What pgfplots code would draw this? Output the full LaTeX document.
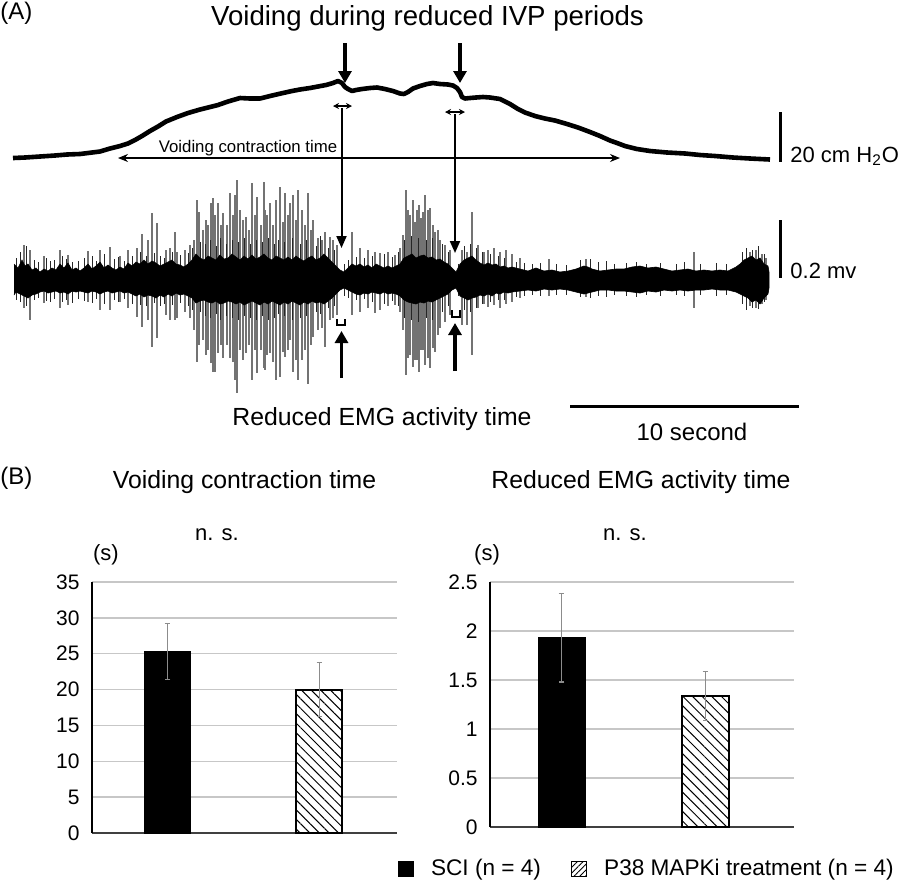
\documentclass[border=0pt]{standalone}
\usepackage{pgfplots}
\pgfplotsset{compat=1.18}
\usepackage{pgfplotstable}
\usepackage{fontspec}
\setmainfont{Liberation Sans}
\usetikzlibrary{arrows.meta,patterns.meta}
\newcommand\fs[1]{\fontsize{#1}{#1}\selectfont}

% IVP trace (pixel coordinates)
\pgfplotstableread{
x y
13 158
25 157.5
40 156.5
55 155.5
67 154.5
80 154
92 152.5
100 151.5
110 148.5
120 146
128 143.5
135 140
142 136
150 131
158 126.5
166 121.5
177 117
188 113
200 109.5
210 107
218 105
228 101.5
240 98
250 98.5
260 98.5
270 96
283 93
292 91
300 89.5
310 88
318 86.5
326 85
333 83
338 81
342 83
345 87
348 89
352 91
356 90
362 89
370 88
377 87.5
385 89
393 91
400 93.5
404 94
408 92
413 88.5
420 86
427 84
433 83
440 84
448 84.5
453 85.5
457 88
460 92
462 97
465 98.5
470 98
476 97.5
483 97
490 97.5
500 99
510 104
518 109
525 112.5
535 116
545 118.5
555 120.5
567 124
578 127.5
590 132
600 136
610 140.5
617 143
625 146
637 149
650 151
667 152.5
685 153.5
700 155
715 156
733 157.5
750 158.5
770 159.5
}\ivp

% EMG tall spikes: x, top, bottom
\pgfplotstableread{
x top bot
24 245 308
30 250 320
44 256 303
60 250 308
68 255 305
88 251 302
100 250 310
110 247 310
120 256 302
128 250 308
137 248 317
142 234 327
148 240 320
152 213 347
157 223 338
166 250 315
170 248 320
175 232 320
177 252 318
185 250 312
190 245 318
194 240 330
197 200 362
199 212 345
203 230 340
206 220 355
208 225 350
211 203 363
213 198 372
215 215 372
218 203 353
221 225 345
223 213 358
227 225 345
230 193 358
233 215 362
235 195 380
237 180 393
240 210 350
243 220 360
246 217 353
249 230 345
252 183 380
255 215 350
257 197 373
261 225 350
264 182 368
265 210 370
267 215 355
270 203 353
273 225 362
276 200 380
280 187 377
283 222 352
285 193 357
288 215 350
290 203 340
293 195 372
296 220 360
298 190 380
302 210 360
305 225 350
308 193 384
311 230 345
313 220 337
318 238 330
322 240 328
325 232 347
330 237 320
333 240 318
337 245 315
352 232 315
360 248 312
368 250 308
375 252 313
380 253 310
388 252 306
395 255 305
400 248 312
403 235 330
406 190 375
408 210 358
410 215 355
413 200 367
415 222 360
417 210 360
419 205 372
421 218 350
423 212 350
425 195 365
428 210 358
430 208 368
433 225 348
435 232 352
438 230 335
440 240 328
445 245 322
450 250 315
462 250 325
467 252 325
472 212 355
478 245 308
484 252 304
488 250 307
494 248 305
500 252 308
506 250 304
512 254 302
520 258 298
549 259 296
586 259 297
694 252 308
750 252 306
756 250 308
762 254 304
766 258 300
}\spikes

% EMG short dark spikes: x, top, bottom
\pgfplotstableread{
x top bot
16 258 300
20 252 302
26 246 306
34 260 300
38 262 298
46 258 301
50 261 302
54 260 299
62 256 302
66 259 300
72 262 303
78 261 299
84 258 301
92 256 303
96 261 299
104 254 304
114 259 300
118 257 302
124 261 299
132 256 304
140 252 305
146 256 306
154 253 303
160 256 306
164 258 304
172 252 305
180 255 303
188 253 306
192 248 310
200 242 312
205 244 316
210 240 318
216 246 314
220 238 320
226 244 316
232 240 318
238 242 320
244 238 316
250 244 318
256 240 320
262 242 316
268 238 320
274 244 318
278 240 314
284 242 316
292 238 320
300 244 318
306 240 316
316 246 312
320 236 314
328 248 308
334 250 306
344 264 296
348 260 298
356 257 300
364 258 299
372 256 302
384 254 304
392 257 301
398 252 306
404 240 318
411 236 320
418 238 322
426 240 318
432 238 320
442 244 312
448 252 306
458 264 296
464 246 310
470 244 312
476 248 308
482 252 304
490 254 302
498 256 300
504 258 300
516 262 297
524 263 296
532 264 295
540 263 296
556 264 295
566 265 295
580 260 297
590 259 298
598 262 296
606 261 297
614 264 295
626 263 296
636 262 297
646 264 295
660 263 296
676 264 295
684 262 296
700 264 295
716 263 296
726 264 295
742 252 304
746 248 310
752 250 308
758 246 309
764 254 302
}\dark

% EMG dense band: upper envelope then lower envelope
\pgfplotstableread{
x y
14 264
18 268
22 260
25 266
28 264
32 270
36 268
40 272
44 269
48 271
52 268
56 270
60 264
64 268
68 263
72 270
76 268
80 271
84 268
88 264
92 269
96 266
100 262
104 268
108 265
112 268
116 270
120 267
124 269
128 263
132 266
136 262
140 264
144 260
148 264
152 261
156 263
160 266
164 264
168 262
172 260
176 264
180 265
184 267
188 264
192 260
196 254
200 258
204 260
208 256
212 258
216 260
220 255
224 259
228 258
232 254
236 257
240 260
244 256
248 259
252 255
256 259
260 257
264 254
268 258
272 260
276 256
280 258
284 260
288 257
292 260
296 256
300 259
304 261
308 258
312 256
316 260
320 258
324 254
328 258
332 262
336 266
340 270
344 272
348 268
352 264
356 266
360 264
364 267
368 265
372 268
376 264
380 266
384 268
388 266
392 268
396 266
400 264
404 258
408 256
412 254
416 258
420 256
424 255
428 258
432 257
436 260
440 259
444 262
448 264
452 268
456 272
460 264
464 260
468 258
472 256
476 260
480 263
484 265
488 263
492 265
496 264
500 267
504 266
508 268
512 267
520 269
528 271
536 268
544 271
552 270
560 272
568 271
576 269
584 266
588 267
592 269
600 271
608 270
616 269
624 269
632 267
640 266
648 268
656 267
664 269
672 271
680 270
688 269
696 271
704 270
712 271
720 270
728 271
736 267
740 264
744 260
748 258
752 256
756 260
760 258
764 264
768 266
769 272
769 288
768 294
764 298
760 304
756 300
752 302
748 298
744 296
740 294
736 292
728 290
720 290
712 289
704 290
696 290
688 291
680 290
672 291
664 290
656 292
648 291
640 293
632 292
624 291
616 291
608 290
600 290
592 292
584 294
576 292
568 290
560 289
552 290
544 289
536 291
528 290
520 291
512 292
508 293
504 292
500 294
496 293
492 296
488 294
484 296
480 295
476 297
472 298
468 300
464 298
460 296
456 288
452 290
448 294
444 296
440 298
436 300
432 302
428 301
424 303
420 302
416 304
412 303
408 302
404 300
400 296
396 294
392 293
388 294
384 292
380 294
376 293
372 292
368 294
364 293
360 295
356 294
352 292
348 290
344 288
340 290
336 294
332 298
328 301
324 304
320 302
316 303
312 301
308 304
304 302
300 305
296 303
292 301
288 304
284 302
280 305
276 303
272 301
268 304
264 302
260 305
256 303
252 301
248 303
244 305
240 302
236 304
232 302
228 301
224 303
220 304
216 301
212 303
208 302
204 300
200 301
196 303
192 298
188 296
184 294
180 295
176 293
172 296
168 294
164 297
160 295
156 298
152 296
148 295
144 297
140 294
136 296
132 294
128 292
124 293
120 291
116 292
112 293
108 291
104 292
100 294
96 292
92 291
88 293
84 292
80 291
76 292
72 291
68 294
64 292
60 293
56 291
52 292
48 293
44 291
40 292
36 294
32 295
28 298
24 296
20 294
16 292
14 295
}\band

\pgfplotsset{barax/.style={
  scale only axis, xtick=\empty,
  axis x line*=bottom, axis y line*=left,
  x axis line style={-, black!75, line width=0.8pt},
  y axis line style={-, black, line width=0.9pt},
  ymajorgrids, grid style={black!22, line width=0.7pt},
  major tick length=0pt, ymin=0,
  tick label style={font=\fs{10.5}},
  /pgf/number format/assume math mode=true,
  yticklabel style={inner sep=0pt, xshift=-6pt},
  clip=false}}

\begin{document}
\begin{tikzpicture}
\path[use as bounding box] (0,0) rectangle (450pt,-439.5pt);

% ---------- overlay axis in pixel coordinates (panel A + texts) ----------
\begin{axis}[at={(0pt,0pt)}, anchor=north west, scale only axis,
  width=450pt, height=439.5pt, xmin=0, xmax=900, ymin=0, ymax=879,
  y dir=reverse, hide axis, clip=false]
\addplot[draw=none, mark=none, forget plot, error bars/.cd, y dir=plus, y explicit,
  error mark=none, error bar style={draw=black!55, line width=0.85pt}]
  table[x=x, y=top, y error expr=\thisrow{bot}-\thisrow{top}] {\spikes};
\addplot[draw=none, mark=none, forget plot, error bars/.cd, y dir=plus, y explicit,
  error mark=none, error bar style={draw=black!85, line width=0.5pt}]
  table[x=x, y=top, y error expr=\thisrow{bot}-\thisrow{top}] {\dark};
\addplot[fill=black, draw=black, line width=0.3pt, forget plot] table[x=x,y=y] {\band};
\addplot[black, line width=2.3pt, line join=round, forget plot] table[x=x,y=y] {\ivp};

% arrows
\draw[line width=1.8pt, -{Triangle[width=6.5pt,length=6pt]}] (axis cs:345,43) -- (axis cs:345,83);
\draw[line width=1.8pt, -{Triangle[width=6.5pt,length=6pt]}] (axis cs:460,43) -- (axis cs:460,83);
\draw[line width=0.6pt, {Stealth[length=3pt,width=3pt]}-{Stealth[length=3pt,width=3pt]}] (axis cs:333,106) -- (axis cs:352,106);
\draw[line width=0.6pt, {Stealth[length=3pt,width=3pt]}-{Stealth[length=3pt,width=3pt]}] (axis cs:445,112) -- (axis cs:465,112);
\draw[line width=1pt, -{Triangle[width=5pt,length=6pt]}] (axis cs:341.5,108) -- (axis cs:341.5,248);
\draw[line width=1pt, -{Triangle[width=5pt,length=6pt]}] (axis cs:455,114) -- (axis cs:455,253);
\draw[line width=0.6pt, {Stealth[length=5pt,width=4pt]}-{Stealth[length=5pt,width=4pt]}] (axis cs:118,158) -- (axis cs:620,158);
\draw[line width=1.8pt, -{Triangle[width=6.5pt,length=6pt]}] (axis cs:341.5,378) -- (axis cs:341.5,331);
\draw[line width=1.8pt, -{Triangle[width=6.5pt,length=6pt]}] (axis cs:455,371) -- (axis cs:455,323);
\draw[line width=0.7pt] (axis cs:337,319) -- (axis cs:337,325) -- (axis cs:345,325) -- (axis cs:345,319);
\draw[line width=0.7pt] (axis cs:452,310) -- (axis cs:452,317) -- (axis cs:460,317) -- (axis cs:460,310);
% scale bars
\draw[line width=1.5pt] (axis cs:780,112) -- (axis cs:780,162);
\draw[line width=1.5pt] (axis cs:780,220) -- (axis cs:780,278);
\draw[line width=1.5pt] (axis cs:570,406) -- (axis cs:799,406);

% texts
\node[anchor=base west, font=\fs{12}, inner sep=0pt] at (axis cs:0,19) {(A)};
\node[anchor=base, font=\fs{13.8}, inner sep=0pt] at (axis cs:427.5,25) {Voiding during reduced IVP periods};
\node[anchor=base, font=\fs{8.4}, inner sep=0pt] at (axis cs:248,152) {Voiding contraction time};
\node[anchor=base west, font=\fs{11}, inner sep=0pt] at (axis cs:790,162) {20 cm H\textsubscript{2}O};
\node[anchor=base west, font=\fs{11}, inner sep=0pt] at (axis cs:790,278) {0.2 mv};
\node[anchor=base, font=\fs{12.4}, inner sep=0pt] at (axis cs:382,425) {Reduced EMG activity time};
\node[anchor=base, font=\fs{12}, inner sep=0pt] at (axis cs:692,440) {10 second};
\node[anchor=base west, font=\fs{12}, inner sep=0pt] at (axis cs:0,484) {(B)};
\node[anchor=base, font=\fs{12.4}, inner sep=0pt] at (axis cs:244.5,488) {Voiding contraction time};
\node[anchor=base, font=\fs{12.4}, inner sep=0pt] at (axis cs:641,488) {Reduced EMG activity time};
\node[anchor=base, font=\fs{11}, inner sep=0pt] at (axis cs:217,540) {n. s.};
\node[anchor=base, font=\fs{11}, inner sep=0pt] at (axis cs:625,540) {n. s.};
\node[anchor=base, font=\fs{11}, inner sep=0pt] at (axis cs:106,560) {(s)};
\node[anchor=base, font=\fs{11}, inner sep=0pt] at (axis cs:487,560) {(s)};
\end{axis}

% ---------- left bar chart ----------
\begin{axis}[barax, at={(46pt,-416.5pt)}, anchor=south west,
  width=152.5pt, height=125.5pt, xmin=-0.497, xmax=1.51, ymax=35,
  ytick={0,5,...,35}]
\addplot[ybar, bar shift=0pt, bar width=23pt, fill=black, draw=black, forget plot,
  error bars/.cd, y dir=both, y explicit,
  error bar style={black!45, line width=0.6pt},
  error mark options={rotate=90, black!45, mark size=1.4pt, line width=0.6pt}]
  coordinates {(0,25.3) +- (0,3.9)};
\addplot[ybar, bar shift=0pt, bar width=23pt, fill=white, draw=black, line width=1pt,
  postaction={pattern={Lines[angle=-45,distance=3.4pt,line width=0.5pt]}}, forget plot,
  error bars/.cd, y dir=both, y explicit,
  error bar style={black!45, line width=0.6pt},
  error mark options={rotate=90, black!45, mark size=1.4pt, line width=0.6pt}]
  coordinates {(1,20.0) +- (0,3.8)};
\end{axis}

% ---------- right bar chart ----------
\begin{axis}[barax, at={(245pt,-413.5pt)}, anchor=south west,
  width=152pt, height=122.5pt, xmin=-0.497, xmax=1.615, ymax=2.5,
  ytick={0,0.5,...,2.5},
  legend columns=2,
  legend image code/.code={\draw[#1, line width=0.6pt] (0pt,-3.75pt) rectangle (7.5pt,3.75pt);},
  legend style={at={(-0.303,-0.171)}, anchor=west, draw=none, fill=none,
    inner sep=0pt, outer sep=0pt, font=\fs{11.3}, nodes={inner sep=0pt},
    /tikz/every odd column/.append style={column sep=8.5pt},
    /tikz/every even column/.append style={column sep=15pt}},
  legend cell align=left]
\addplot[ybar, bar shift=0pt, bar width=23.5pt, fill=black, draw=black, forget plot,
  error bars/.cd, y dir=both, y explicit,
  error bar style={black!45, line width=0.6pt},
  error mark options={rotate=90, black!45, mark size=1.4pt, line width=0.6pt}]
  coordinates {(0,1.93) +- (0,0.45)};
\addplot[ybar, bar shift=0pt, bar width=23.5pt, fill=white, draw=black, line width=1pt,
  postaction={pattern={Lines[angle=-45,distance=3.4pt,line width=0.5pt]}}, forget plot,
  error bars/.cd, y dir=both, y explicit,
  error bar style={black!45, line width=0.6pt},
  error mark options={rotate=90, black!45, mark size=1.4pt, line width=0.6pt}]
  coordinates {(1,1.34) +- (0,0.25)};
\addlegendimage{fill=black, draw=black}
\addlegendentry{SCI (n = 4)}
\addlegendimage{draw=black, pattern={Lines[angle=45,distance=2pt,line width=0.45pt]}}
\addlegendentry{P38 MAPKi treatment (n = 4)}
\end{axis}
\end{tikzpicture}
\end{document}
